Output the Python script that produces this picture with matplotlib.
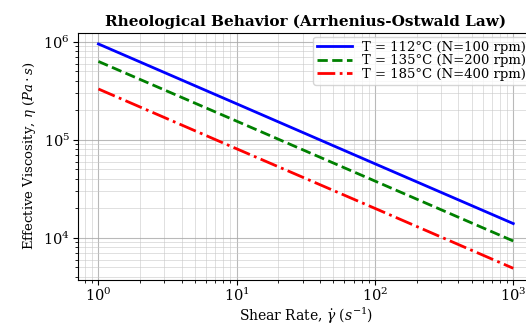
import matplotlib
matplotlib.use("Agg")
import matplotlib.pyplot as plt

plt.rcParams['font.family'] = ['DejaVu Serif']
plt.rcParams['mathtext.fontset'] = 'dejavuserif'

shear_rate = [1, 10, 100, 1000]
visc_112 = [9.5e5, 2.33e5, 5.7e4, 1.4e4]
visc_135 = [6.3e5, 1.55e5, 3.8e4, 9.3e3]
visc_185 = [3.3e5, 8.1e4, 2.0e4, 4.9e3]
labels = ['T = 112°C (N=100 rpm)', 'T = 135°C (N=200 rpm)', 'T = 185°C (N=400 rpm)']

fig = plt.figure(figsize=(5.26, 3.26), dpi=100)
ax = fig.add_axes([0.1477, 0.1426, 0.8675, 0.757])

ax.loglog(shear_rate, visc_112, color='blue', linestyle='-', linewidth=2, label=labels[0])
ax.loglog(shear_rate, visc_135, color='green', linestyle='--', linewidth=2, label=labels[1])
ax.loglog(shear_rate, visc_185, color='red', linestyle='-.', linewidth=2, label=labels[2])

ax.grid(True, which='major', color='#a8a8a8', linewidth=0.8, alpha=0.8)
ax.grid(True, which='minor', color='#c8c8c8', linewidth=0.5, alpha=0.8)

ax.set_title('Rheological Behavior (Arrhenius-Ostwald Law)', fontsize=11, fontweight='bold', pad=5)
ax.set_xlabel(r'Shear Rate, $\dot{\gamma}$ ($s^{-1}$)', fontsize=10, labelpad=1)
ax.set_ylabel(r'Effective Viscosity, $\eta$ ($Pa \cdot s$)', fontsize=9.5)
ax.tick_params(labelsize=10.5, pad=2)
ax.legend(fontsize=9.5, loc='upper right', labelspacing=0.05, handlelength=2.6,
          borderaxespad=0.3, borderpad=0.3)

fig.savefig('out.png', dpi=100)
